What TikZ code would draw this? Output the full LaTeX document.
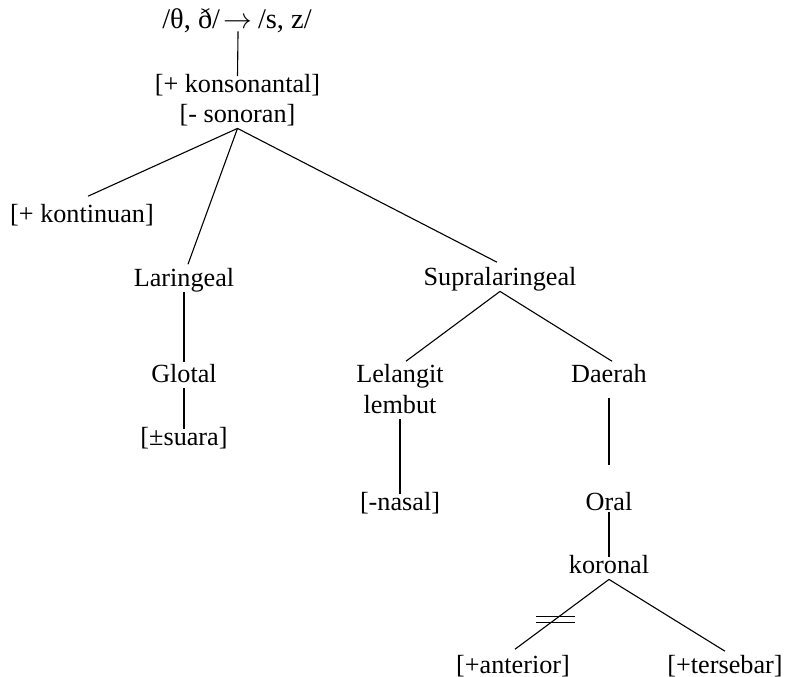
\documentclass[tikz,border=0pt]{standalone}
\usepackage{fontspec}
\setmainfont{Liberation Serif}
\begin{document}
\begin{tikzpicture}[x=0.5pt,y=-0.5pt,
  lbl/.style={anchor=base,inner xsep=0pt,inner ysep=0.5pt,text height=0.72em,text depth=0.25em,
    font=\fontsize{13.1}{15}\selectfont},
  edge/.style={line width=0.55pt,line cap=butt}]
\useasboundingbox (0,0) rectangle (791,676);
% nodes
\node[lbl,font=\fontsize{14.2}{16}\selectfont] (title) at (237,28) {/θ, ð/\kern0.12em$\rightarrow$\kern0.2em/s, z/};
\node[lbl] (kons) at (237.5,92) {[+ konsonantal]};
\node[lbl] (son) at (237.5,122) {[- sonoran]};
\node[lbl] (kont) at (82,222) {[+ kontinuan]};
\node[lbl] (lar) at (184,286) {Laringeal};
\node[lbl] (sup) at (500,285) {Supralaringeal};
\node[lbl] (glo) at (184,382) {Glotal};
\node[lbl] (sua) at (184,445) {[±suara]};
\node[lbl] (lel) at (400,382) {Lelangit};
\node[lbl] (lem) at (400,413) {lembut};
\node[lbl] (nas) at (400,510) {[-nasal]};
\node[lbl] (dae) at (609,382) {Daerah};
\node[lbl] (ora) at (609,510) {Oral};
\node[lbl] (kor) at (609,573) {koronal};
\node[lbl] (ant) at (513,673) {[+anterior]};
\node[lbl] (ter) at (725,673) {[+tersebar]};
% connectors
\draw[edge,shorten <=-1.5pt] ([xshift=0.5pt]title.south) -- (kons.north);
\draw[edge] (son.south) -- ([xshift=3pt,yshift=5pt]kont.north);
\draw[edge] (son.south) -- ([xshift=2pt,yshift=3pt]lar.north);
\draw[edge] (son.south) -- ([xshift=-1.5pt,yshift=3.5pt]sup.north);
\draw[edge] (lar.south) -- ([yshift=2pt]glo.north);
\draw[edge] (glo.south) -- (sua.north);
\draw[edge] (sup.south) -- ([xshift=3pt,yshift=2.5pt]lel.north);
\draw[edge] (sup.south) -- ([xshift=1.5pt,yshift=2.5pt]dae.north);
\draw[edge] (lem.south) -- (nas.north);
\draw[edge,shorten <=5pt,shorten >=14.5pt] (dae.south) -- (ora.north);
\draw[edge,shorten <=-2.25pt] (ora.south) -- (kor.north);
\draw[edge] (kor.south) -- coordinate[pos=0.57] (cut) ([xshift=1pt,yshift=4pt]ant.north);
\draw[edge] (kor.south) -- ([yshift=3pt]ter.north);
% double bar
\draw[edge] ([xshift=-9.75pt,yshift=-1.5pt]cut) -- ++(39,0);
\draw[edge] ([xshift=-9.75pt,yshift=1.5pt]cut) -- ++(39,0);
\end{tikzpicture}
\end{document}
